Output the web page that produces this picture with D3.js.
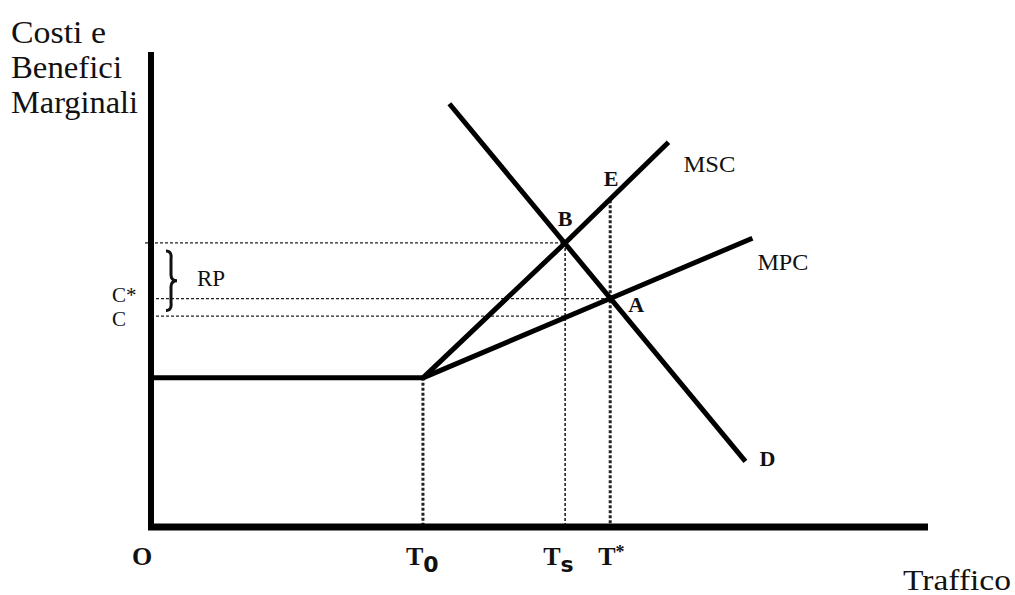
<!DOCTYPE html>
<html>
<head>
<meta charset="utf-8">
<script src="https://cdn.jsdelivr.net/npm/d3@7"></script>
<style>
    body { margin: 0; background: #fff; }
    svg text { font-family: "Liberation Serif", "Times New Roman", serif; fill: #111; }
</style>
</head>
<body>
<div id="chart"></div>
<script>
// values in chart units (x: traffic 0-100, y: cost 0-100)
const tickLabels = ["O", "T", "T", "T"];
const tickSubs = ["", "0", "s", "*"];
const tickValues = [0, 35, 53.3, 59.1];

const levelLabels = ["C*", "C"];
const levelValues = [48.1, 44.4];
const rpLevel = 59.8;

const flatCost = [[0, 31.4], [35, 31.4]];
const msc = [[35, 31.4], [53.3, 59.8], [66.6, 81]];
const mpc = [[35, 31.4], [59.1, 48.1], [77.4, 60.8]];
const demand = [[38.4, 89.1], [76.5, 13.8]];

const pointNames = ["B", "E", "A", "D"];
const pointValues = [[53.3, 59.8], [59.1, 68.8], [59.1, 48.1], [76.5, 13.8]];

const w = 1015, h = 595;
const svg = d3.select("#chart").append("svg")
    .attr("width", w)
    .attr("height", h);

const x = d3.scaleLinear().domain([0, 100]).range([151, 928]);
const y = d3.scaleLinear().domain([0, 100]).range([527, 52]);
const line = d3.line().x(d => x(d[0])).y(d => y(d[1]));

// dotted guides
const guide = (x1, y1, x2, y2, width) => svg.append("line")
    .attr("x1", x1).attr("y1", y1).attr("x2", x2).attr("y2", y2)
    .attr("stroke", "#222")
    .attr("stroke-width", width)
    .attr("stroke-dasharray", "3,2");

guide(x(0) - 6, y(rpLevel), x(53.3), y(rpLevel), 1.3);
guide(x(0), y(levelValues[0]), x(59.1), y(levelValues[0]), 1.3);
// C line stops where it meets MPC
const cEnd = 35 + (levelValues[1] - 31.4) / ((48.1 - 31.4) / (59.1 - 35));
guide(x(0), y(levelValues[1]), x(cEnd), y(levelValues[1]), 1.3);

guide(x(tickValues[1]), y(31.4), x(tickValues[1]), y(0), 3);
guide(x(tickValues[2]), y(rpLevel), x(tickValues[2]), y(0), 1.6);
guide(x(tickValues[3]), y(68.8), x(tickValues[3]), y(0), 3);

// curves
[flatCost, msc, mpc, demand].forEach(pts => {
    svg.append("path")
        .attr("d", line(pts))
        .attr("fill", "none")
        .attr("stroke", "#000")
        .attr("stroke-width", 5)
        .attr("stroke-linejoin", "round");
});

// axes
svg.append("line")
    .attr("x1", x(0)).attr("y1", y(100))
    .attr("x2", x(0)).attr("y2", y(0) + 3)
    .attr("stroke", "#000").attr("stroke-width", 6);
svg.append("line")
    .attr("x1", x(0) - 3).attr("y1", y(0))
    .attr("x2", x(100)).attr("y2", y(0))
    .attr("stroke", "#000").attr("stroke-width", 7);

// RP brace
const bx = x(0) + 19, by1 = y(rpLevel) + 8, by2 = y(levelValues[0]) + 12, bm = (by1 + by2) / 2;
svg.append("path")
    .attr("d", `M${bx - 4},${by1} Q${bx + 2},${by1} ${bx + 1},${by1 + 8} L${bx + 1},${bm - 6}
        Q${bx + 1},${bm} ${bx + 7},${bm} Q${bx + 1},${bm} ${bx + 1},${bm + 6}
        L${bx + 1},${by2 - 8} Q${bx + 2},${by2} ${bx - 4},${by2}`)
    .attr("fill", "none")
    .attr("stroke", "#111")
    .attr("stroke-width", 3);

svg.append("text")
    .attr("x", x(0) + 46)
    .attr("y", 286)
    .style("font-size", "23px")
    .text("RP");

// level labels
levelLabels.forEach((lab, i) => {
    svg.append("text")
        .attr("x", 112)
        .attr("y", y(levelValues[i]) + (i === 0 ? 3 : 10))
        .style("font-size", "21px")
        .text(lab);
});

// tick labels on traffic axis
const tickDx = [-19, -17, -22, -12];
tickLabels.forEach((lab, i) => {
    const t = svg.append("text")
        .attr("x", x(tickValues[i]) + tickDx[i])
        .attr("y", 565)
        .style("font-size", "26px")
        .style("font-weight", "bold")
        .text(lab);
    if (tickSubs[i]) {
        const star = tickSubs[i] === "*";
        t.append("tspan")
            .attr("dy", star ? -7 : 7)
            .style("font-size", star ? "18px" : "22px")
            .style("font-family", star ? null : "'DejaVu Sans', sans-serif")
            .text(tickSubs[i]);
    }
});

// point letters
const pointOffsets = [[0, -17], [1, -14], [26, 13], [22, 5]];
pointNames.forEach((lab, i) => {
    svg.append("text")
        .attr("x", x(pointValues[i][0]) + pointOffsets[i][0])
        .attr("y", y(pointValues[i][1]) + pointOffsets[i][1])
        .attr("text-anchor", "middle")
        .style("font-size", "22px")
        .style("font-weight", "bold")
        .text(lab);
});

// curve names
svg.append("text")
    .attr("x", x(msc[2][0]) + 15)
    .attr("y", y(msc[2][1]) + 30)
    .attr("textLength", 52)
    .attr("lengthAdjust", "spacingAndGlyphs")
    .style("font-size", "23px")
    .text("MSC");
svg.append("text")
    .attr("x", x(mpc[2][0]) + 5)
    .attr("y", y(mpc[2][1]) + 32)
    .attr("textLength", 51)
    .attr("lengthAdjust", "spacingAndGlyphs")
    .style("font-size", "23px")
    .text("MPC");

// axis titles
const titleWidths = [95, 111, 127];
["Costi e", "Benefici", "Marginali"].forEach((s, i) => {
    svg.append("text")
        .attr("x", 11)
        .attr("y", 43 + i * 35)
        .attr("textLength", titleWidths[i])
        .attr("lengthAdjust", "spacingAndGlyphs")
        .style("font-size", "31px")
        .text(s);
});

svg.append("text")
    .attr("x", 903)
    .attr("y", 590)
    .attr("textLength", 108)
    .attr("lengthAdjust", "spacingAndGlyphs")
    .style("font-size", "30px")
    .text("Traffico");
</script>
</body>
</html>
